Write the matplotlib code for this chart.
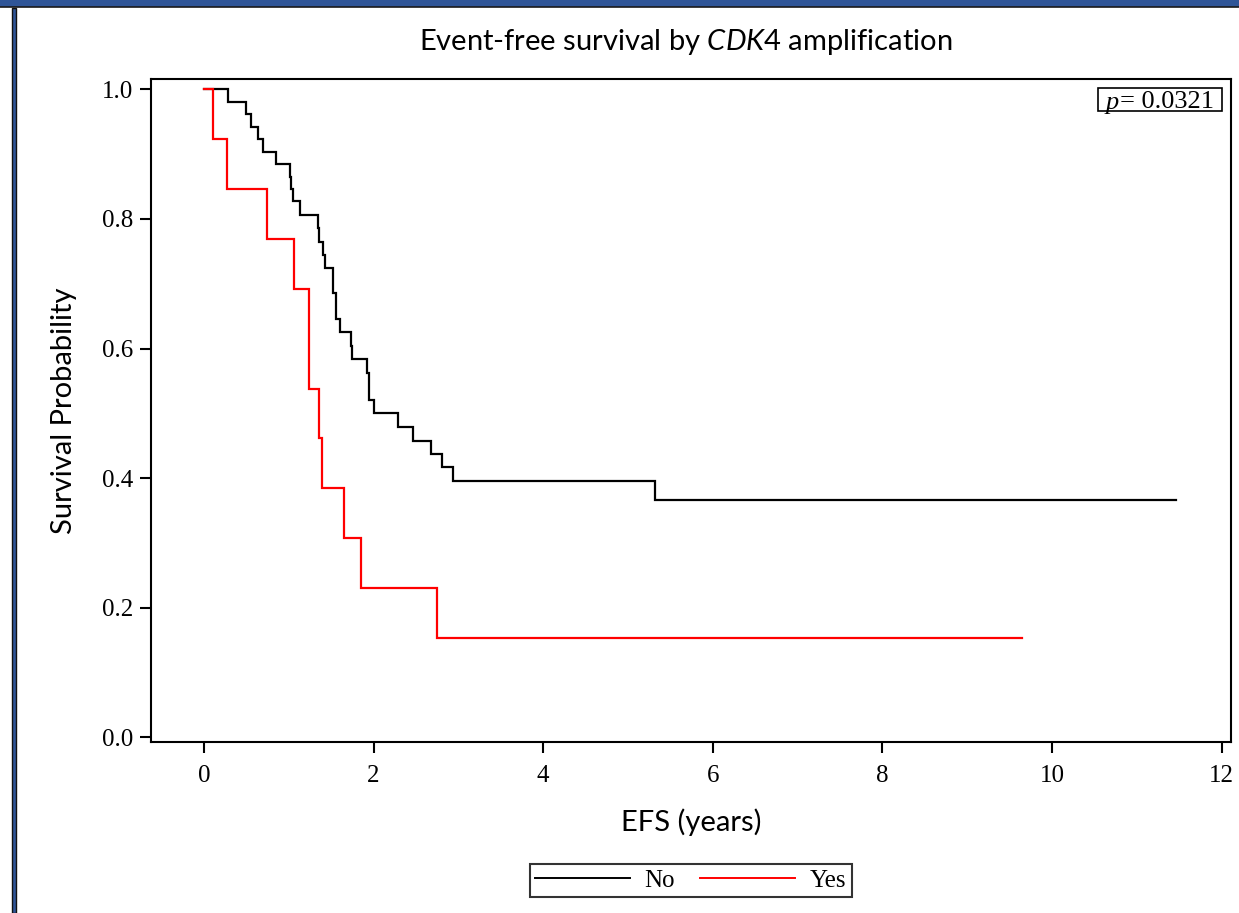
import matplotlib
matplotlib.use("Agg")
import matplotlib.pyplot as plt
from matplotlib.patches import Rectangle
from matplotlib.lines import Line2D
from matplotlib.offsetbox import TextArea, HPacker, AnchoredOffsetbox

# Kaplan-Meier step data (time in years, survival after each event)
no_times = [0.28, 0.50, 0.55, 0.64, 0.69, 0.85, 1.01, 1.03, 1.05, 1.13,
            1.34, 1.36, 1.40, 1.43, 1.52, 1.52, 1.56, 1.56, 1.60, 1.73,
            1.75, 1.92, 1.94, 1.95, 2.00, 2.29, 2.46, 2.68, 2.81, 2.94, 5.32]
no_surv = [0.981, 0.962, 0.942, 0.923, 0.904, 0.885, 0.865, 0.846, 0.827, 0.806,
           0.786, 0.765, 0.745, 0.725, 0.706, 0.686, 0.666, 0.645, 0.625, 0.604,
           0.584, 0.563, 0.542, 0.521, 0.500, 0.479, 0.458, 0.438, 0.417, 0.396, 0.367]
no_end = 11.46

yes_times = [0.11, 0.27, 0.74, 1.06, 1.24, 1.36, 1.39, 1.65, 1.85, 2.75]
yes_surv = [0.923, 0.846, 0.769, 0.692, 0.538, 0.462, 0.385, 0.308, 0.231, 0.154]
yes_end = 9.65

groups = ["No", "Yes"]
group_colors = ["black", "red"]
x_ticks = [0, 2, 4, 6, 8, 10, 12]
y_ticks = [0.0, 0.2, 0.4, 0.6, 0.8, 1.0]
p_value = "0.0321"

serif = "Liberation Serif"
sans = "Lato"
plt.rcParams["mathtext.fontset"] = "custom"
plt.rcParams["mathtext.it"] = "Lato:italic"
plt.rcParams["mathtext.rm"] = "Lato"

W, H = 1239, 913
fig = plt.figure(figsize=(W / 100, H / 100), dpi=100)
fig.patch.set_facecolor("white")

# slide frame: blue band at top and a bordered bar on the left
blue = "#2F5597"
fig.add_artist(Rectangle((0, 1 - 7 / H), 1, 7 / H, transform=fig.transFigure,
                         facecolor=blue, edgecolor="none"))
fig.add_artist(Line2D([0, 1], [1 - 7.5 / H, 1 - 7.5 / H], transform=fig.transFigure,
                      color="#1a1a1a", lw=1.2))
fig.add_artist(Rectangle((12 / W, 0), 4 / W, 1 - 8 / H, transform=fig.transFigure,
                         facecolor=blue, edgecolor="#111111", lw=1.0))

ax = fig.add_axes([151 / W, 1 - 742.3 / H, 1080 / W, 663.3 / H])

def km_xy(times, surv, end):
    xs = [0.0]
    ys = [1.0]
    for t, s in zip(times, surv):
        xs += [t, t]
        ys += [ys[-1], s]
    xs.append(end)
    ys.append(ys[-1])
    return xs, ys

x_no, y_no = km_xy(no_times, no_surv, no_end)
x_yes, y_yes = km_xy(yes_times, yes_surv, yes_end)
ax.plot(x_no, y_no, color=group_colors[0], lw=1.6, solid_joinstyle="miter", label=groups[0])
ax.plot(x_yes, y_yes, color=group_colors[1], lw=1.6, solid_joinstyle="miter", label=groups[1])

ax.set_xlim(-0.625, 12.11)
ax.set_ylim(-0.0077, 1.016)
ax.set_xticks(x_ticks)
ax.set_yticks(y_ticks)
ax.set_xticklabels([str(v) for v in x_ticks], fontfamily=serif, fontsize=18)
ax.set_yticklabels([f"{v:.1f}" for v in y_ticks], fontfamily=serif, fontsize=18)
ax.tick_params(direction="out", length=8, width=1.5, pad=5)
ax.tick_params(axis="x", pad=8)
for sp in ax.spines.values():
    sp.set_linewidth(1.5)

ax.set_xlabel("EFS (years)", fontfamily=sans, fontsize=21, labelpad=16)
ax.set_ylabel("Survival Probability", fontfamily=sans, fontsize=21, labelpad=18)

fig.text(686 / W, 1 - 42 / H, "Event-free survival by $\\mathit{CDK4}$ amplification",
         ha="center", va="center", fontfamily=sans, fontsize=21)

# boxed p-value in the upper right corner
fig.add_artist(Rectangle((1098 / W, 1 - 111 / H), 124 / W, 23 / H, transform=fig.transFigure,
                         facecolor="white", edgecolor="black", lw=1.2, zorder=3))
p_text = HPacker(children=[
    TextArea("p", textprops=dict(family=serif, style="italic", size=19)),
    TextArea("= " + p_value, textprops=dict(family=serif, size=19)),
], align="baseline", pad=0, sep=1)
anch = AnchoredOffsetbox(loc="center", child=p_text, pad=0, borderpad=0, frameon=False,
                         bbox_to_anchor=(1160 / W, 1 - 102.5 / H),
                         bbox_transform=fig.transFigure)
anch.set_zorder(4)
fig.add_artist(anch)

handles = [Line2D([], [], color=c, lw=1.4) for c in group_colors]
leg = fig.legend(handles, groups, loc="center", bbox_to_anchor=(690.5 / W, 1 - 880.5 / H),
                 ncol=2, frameon=True, fancybox=False, edgecolor="black",
                 prop={"family": serif, "size": 18}, handlelength=3.8,
                 handletextpad=0.6, columnspacing=1.0, borderpad=0.2, borderaxespad=0)
leg.get_frame().set_linewidth(1.5)

fig.savefig("out.png", dpi=100, facecolor="white")
